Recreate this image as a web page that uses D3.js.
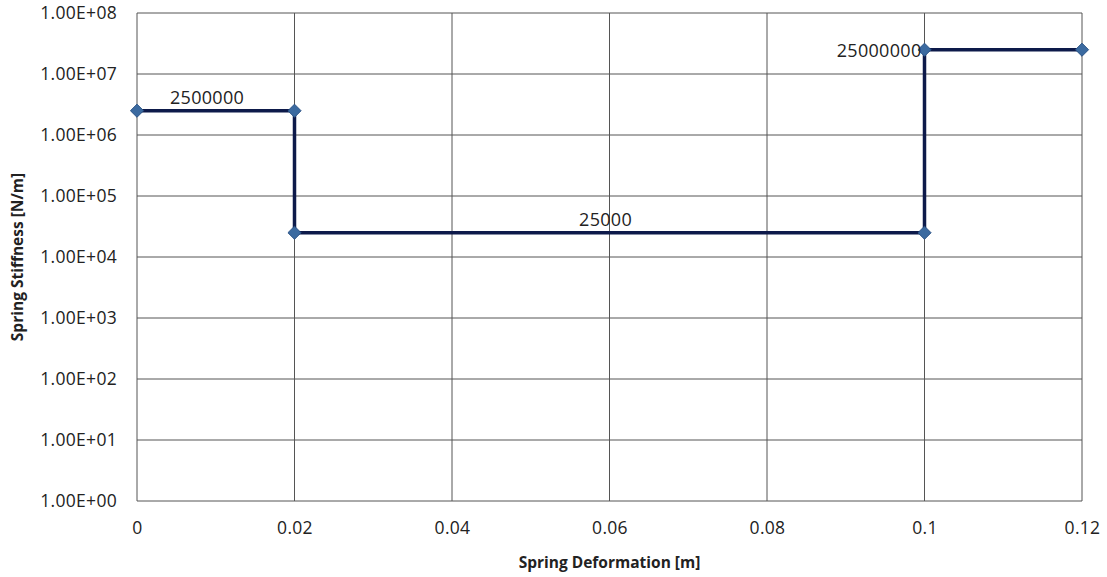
<!DOCTYPE html>
<html>
<head>
<meta charset="utf-8">
<script src="https://cdn.jsdelivr.net/npm/d3@7"></script>
<style>
  body { margin: 0; background: #fff; }
  text { font-family: "Open Sans", "Liberation Sans", sans-serif; }
</style>
</head>
<body>
<script>
// data
var deformation = [0, 0.02, 0.02, 0.1, 0.1, 0.12];
var stiffness = [2500000, 2500000, 25000, 25000, 25000000, 25000000];
var xTicks = [0, 0.02, 0.04, 0.06, 0.08, 0.1, 0.12];
var yTicks = [1, 10, 100, 1000, 10000, 100000, 1000000, 10000000, 100000000];
var segLabels = ["2500000", "25000", "25000000"];

var svgWidth = 1107, svgHeight = 577;
var margin = {top: 13, right: 25, bottom: 76, left: 137};
var chartWidth = svgWidth - margin.left - margin.right;
var chartHeight = svgHeight - margin.top - margin.bottom;

var svg = d3.select("body").append("svg")
  .attr("width", svgWidth)
  .attr("height", svgHeight);

var chartGroup = svg.append("g")
  .attr("transform", `translate(${margin.left}, ${margin.top})`);

var xScale = d3.scaleLinear().domain([0, 0.12]).range([0, chartWidth]);
var yScale = d3.scaleLog().domain([1, 1e8]).range([chartHeight, 0]);

// grid lines
chartGroup.selectAll(".hgrid").data(yTicks).enter().append("line")
  .attr("x1", 0).attr("x2", chartWidth)
  .attr("y1", d => yScale(d)).attr("y2", d => yScale(d))
  .attr("stroke", "#555").attr("stroke-width", 1);
chartGroup.selectAll(".vgrid").data(xTicks).enter().append("line")
  .attr("y1", 0).attr("y2", chartHeight)
  .attr("x1", d => xScale(d)).attr("x2", d => xScale(d))
  .attr("stroke", "#555").attr("stroke-width", 1);

// axes (labels only)
var leftAxis = d3.axisLeft(yScale).tickValues(yTicks).tickSize(0).tickPadding(20)
  .tickFormat(d => "1.00E+" + String(Math.round(Math.log10(d))).padStart(2, "0"));
var bottomAxis = d3.axisBottom(xScale).tickValues(xTicks).tickSize(0).tickPadding(21)
  .tickFormat(d => String(+d.toFixed(2)));

var gy = chartGroup.append("g").call(leftAxis);
var gx = chartGroup.append("g").attr("transform", `translate(0, ${chartHeight})`).call(bottomAxis);
[gx, gy].forEach(g => {
  g.select(".domain").remove();
  g.selectAll("text").attr("font-size", "17.5px").attr("fill", "#222")
    .attr("letter-spacing", "0.3px")
    .style("font-family", "'Open Sans', sans-serif");
});

// step line
var line = d3.line().x((d, i) => xScale(deformation[i])).y((d, i) => yScale(stiffness[i]));
chartGroup.append("path")
  .datum(stiffness)
  .attr("d", line)
  .attr("fill", "none")
  .attr("stroke", "#0d1a4a")
  .attr("stroke-width", 3.5);

// diamond markers
chartGroup.selectAll(".pt").data(stiffness).enter().append("path")
  .attr("d", d3.symbol().type(d3.symbolDiamond2).size(110))
  .attr("transform", (d, i) => `translate(${xScale(deformation[i])}, ${yScale(d)})`)
  .attr("fill", "#3b6aa0")
  .attr("stroke", "#2a5286")
  .attr("stroke-width", 1);

// value labels for each level
var labelPos = [
  {x: (deformation[0] + deformation[1]) / 2 - 0.0011, y: stiffness[0], anchor: "middle"},
  {x: (deformation[2] + deformation[3]) / 2 - 0.0005, y: stiffness[2], anchor: "middle"},
  {x: deformation[4], y: stiffness[4], anchor: "end"}
];
chartGroup.selectAll(".lbl").data(segLabels).enter().append("text")
  .attr("x", (d, i) => xScale(labelPos[i].x) + (labelPos[i].anchor === "end" ? -3 : 0))
  .attr("y", (d, i) => yScale(labelPos[i].y) - (labelPos[i].anchor === "end" ? -7 : 7))
  .attr("text-anchor", (d, i) => labelPos[i].anchor)
  .attr("font-size", "18px")
  .attr("letter-spacing", "0.3px")
  .attr("fill", "#222")
  .text(d => d);

// axis titles
svg.append("text")
  .attr("x", margin.left + chartWidth / 2)
  .attr("y", 568)
  .attr("text-anchor", "middle")
  .attr("font-size", "15.5px")
  .attr("font-weight", "bold")
  .attr("fill", "#222")
  .text("Spring Deformation [m]");

svg.append("text")
  .attr("transform", `translate(23, ${margin.top + chartHeight / 2}) rotate(-90)`)
  .attr("text-anchor", "middle")
  .attr("font-size", "15.5px")
  .attr("font-weight", "bold")
  .attr("fill", "#222")
  .text("Spring Stiffness [N/m]");
</script>
</body>
</html>
